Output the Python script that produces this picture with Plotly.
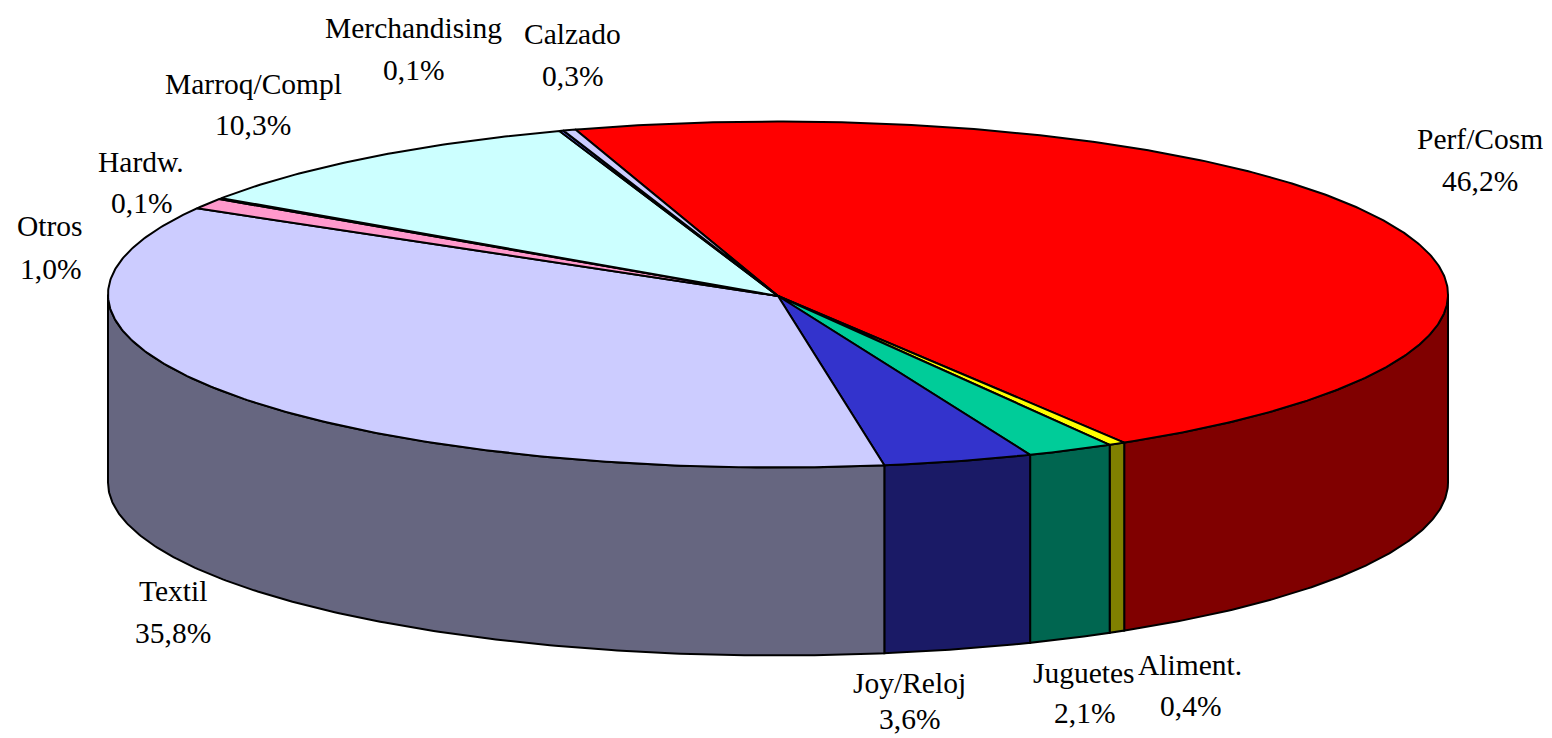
import math
import plotly.graph_objects as go

# Data, in drawing order (clockwise)
categories = ["Perf/Cosm", "Aliment.", "Juguetes", "Joy/Reloj", "Textil", "Otros",
              "Hardw.", "Marroq/Compl", "Merchandising", "Calzado"]
shares = [46.2, 0.4, 2.1, 3.6, 35.8, 1.0, 0.1, 10.3, 0.1, 0.3]
top_colors = ["#FF0000", "#FFFF00", "#00CC99", "#3333CC", "#CCCCFF", "#FF99CC",
              "#FFFFCC", "#CCFFFF", "#6666FF", "#CCCCFF"]
side_colors = ["#800000", "#808000", "#006650", "#1A1A66", "#666680", "#804D66",
               "#808066", "#668080", "#333380", "#666680"]

# Layout of the drawing, in page pixels
W, H = 1552, 738
CX, CY, RX, RY, DEPTH = 778, 294.5, 670, 173, 188
START = -17.6
LABEL_POS = {
    "Perf/Cosm": (1480, 139, 181), "Aliment.": (1190, 665, 706),
    "Juguetes": (1084, 673, 713), "Joy/Reloj": (909, 683, 719),
    "Textil": (173, 591, 633), "Otros": (50, 226, 269),
    "Hardw.": (141, 162, 203), "Marroq/Compl": (253, 84, 125),
    "Merchandising": (413, 28, 70), "Calzado": (572, 34, 76),
}


def pt(a, dz=0.0):
    r = math.radians(a)
    return CX + RX * math.sin(r), CY - RY * math.cos(r) + dz


def arc(a0, a1, dz=0.0):
    n = max(2, int(abs(a1 - a0) * 2) + 1)
    return [pt(a0 + (a1 - a0) * i / (n - 1), dz) for i in range(n)]


def poly(points, color, name):
    xs = [p[0] for p in points] + [points[0][0]]
    ys = [p[1] for p in points] + [points[0][1]]
    return go.Scatter(x=xs, y=ys, mode="lines", fill="toself", fillcolor=color,
                      line=dict(color="black", width=2), name=name,
                      hoverinfo="name", showlegend=False)


fig = go.Figure()
total = sum(shares)
spans = []
a = START
for s in shares:
    spans.append((a, a + s / total * 360))
    a += s / total * 360

# Outer wall (only the part facing the viewer)
for (a0, a1), cat, col in zip(spans, categories, side_colors):
    lo, hi = max(a0, 90), min(a1, 270)
    if hi > lo:
        fig.add_trace(poly(arc(lo, hi) + arc(hi, lo, DEPTH), col, cat))

# Top face
for (a0, a1), cat, col in zip(spans, categories, top_colors):
    fig.add_trace(poly([(CX, CY + 1.5)] + arc(a0, a1), col, cat))

annotations = []
for cat, share in zip(categories, shares):
    x, y1, y2 = LABEL_POS[cat]
    for text, y in ((cat, y1), (f"{share:.1f}%".replace(".", ","), y2)):
        annotations.append(dict(x=x, y=y, text=text, showarrow=False, xref="x", yref="y",
                                xanchor="center", yanchor="middle",
                                font=dict(family="Liberation Serif", size=29.5, color="black")))

fig.update_layout(
    width=W, height=H, margin=dict(l=0, r=0, t=0, b=0),
    paper_bgcolor="white", plot_bgcolor="white", showlegend=False,
    xaxis=dict(range=[0, W], visible=False, fixedrange=True),
    yaxis=dict(range=[H, 0], visible=False, fixedrange=True),
    annotations=annotations,
)
fig.write_html("out.html", config={"displayModeBar": False},
               post_script="document.body.style.margin='0';document.body.style.overflow='hidden';")
